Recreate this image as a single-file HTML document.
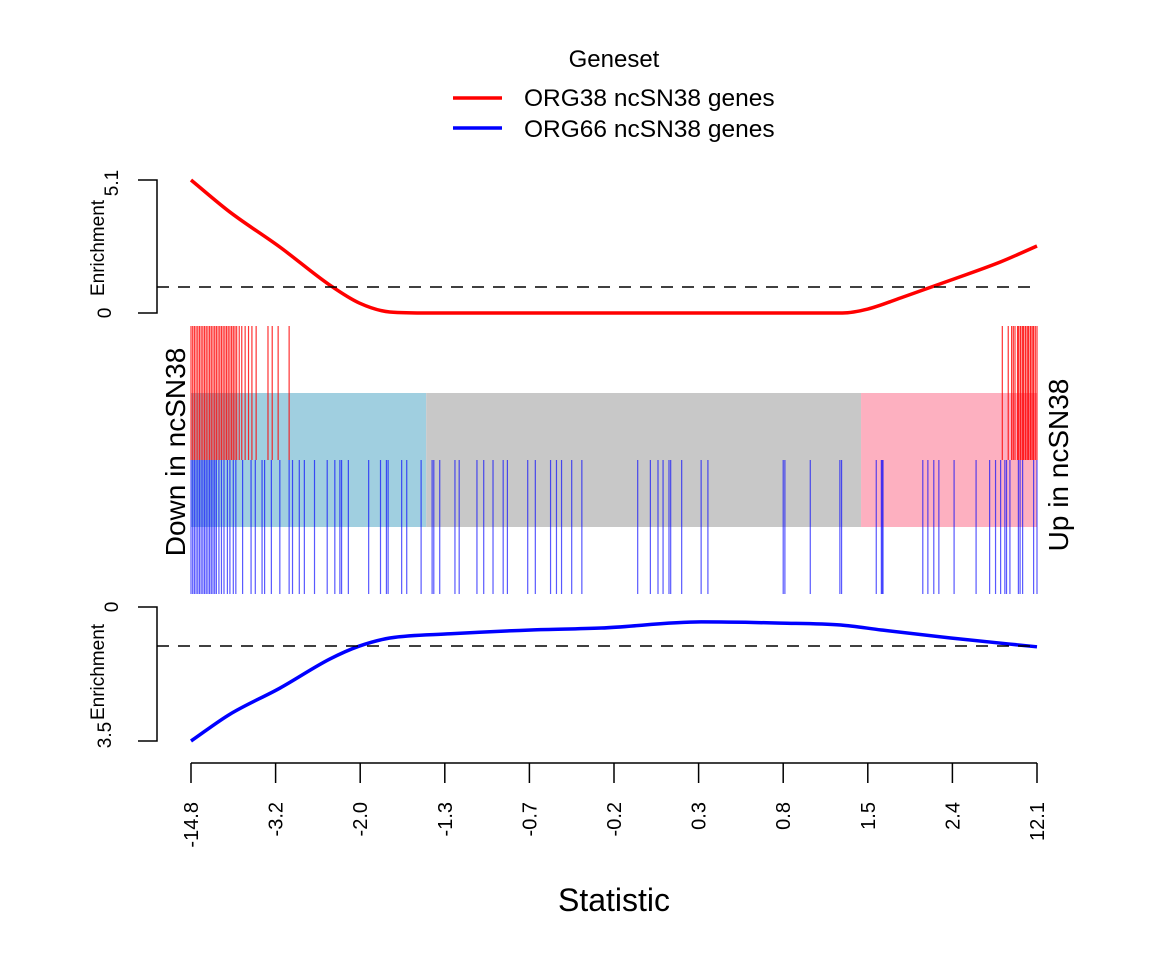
<!DOCTYPE html>
<html><head><meta charset="utf-8"><style>
html,body{margin:0;padding:0;background:#fff;}
svg{display:block;font-family:"Liberation Sans",Arial,sans-serif;}
</style></head><body>
<svg id="chart" width="1152" height="960" viewBox="0 0 1152 960">
<g id="legend">
<text x="614" y="67" font-size="24" text-anchor="middle">Geneset</text>
<line x1="453" y1="98" x2="502" y2="98" stroke="#f00" stroke-width="3.5"/>
<text x="524" y="106" font-size="24.5">ORG38 ncSN38 genes</text>
<line x1="453" y1="128" x2="502" y2="128" stroke="#00f" stroke-width="3.5"/>
<text x="524" y="137" font-size="24.5">ORG66 ncSN38 genes</text>
</g>
<g id="bands"></g>
<g id="bars"></g>
<g id="curves"></g>
<g id="axes" stroke="#000" stroke-width="1.5" fill="none">
<path d="M138,180H157V313H138"/>
<path d="M138,607H157V741H138"/>
<line x1="157" y1="287" x2="1037" y2="287" stroke-dasharray="12,9"/>
<line x1="157" y1="646" x2="1037" y2="646" stroke-dasharray="12,9"/>
</g>
<g font-size="19">
<text transform="translate(104,248) rotate(-90)" text-anchor="middle">Enrichment</text>
<text transform="translate(118,183) rotate(-90)" text-anchor="middle">5.1</text>
<text transform="translate(111,313) rotate(-90)" text-anchor="middle">0</text>
<text transform="translate(104,672) rotate(-90)" text-anchor="middle">Enrichment</text>
<text transform="translate(118,607) rotate(-90)" text-anchor="middle">0</text>
<text transform="translate(111,735) rotate(-90)" text-anchor="middle">3.5</text>
</g>
<text transform="translate(185,452) rotate(-90)" font-size="28" text-anchor="middle">Down in ncSN38</text>
<text transform="translate(1068,465) rotate(-90)" font-size="28" text-anchor="middle">Up in ncSN38</text>
<g id="xaxis"></g>
<text x="614" y="911" font-size="32" text-anchor="middle">Statistic</text>
</svg>
<script>
const xTickLabels = ["-14.8","-3.2","-2.0","-1.3","-0.7","-0.2","0.3","0.8","1.5","2.4","12.1"];
// gene ranks as fraction (0..1) of the ranked statistic
const redRanks = [0,0.002,0.004,0.006,0.008,0.01,0.012,0.014,0.016,0.018,0.02,0.022,0.024,0.026,0.028,0.03,0.032,0.034,0.036,0.038,0.04,0.042,0.044,0.046,0.048,0.05,0.052,0.054,0.057,0.06,0.064,0.068,0.072,0.077,0.091,0.096,0.103,0.116,
 0.959,0.966,0.97,0.972,0.974,0.977,0.978,0.98,0.981,0.983,0.984,0.986,0.987,0.989,0.99,0.992,0.993,0.995,0.996,0.998,1.0];
const blueRanks = [0,0.002,0.004,0.006,0.008,0.01,0.012,0.014,0.016,0.018,0.02,0.022,0.024,0.026,0.028,0.03,0.033,0.036,0.039,
 0.043,0.046,0.05,0.053,0.061,0.071,0.076,0.084,0.087,0.095,0.105,0.116,0.12,0.128,0.134,0.146,0.161,0.17,0.176,0.178,0.186,0.21,0.224,0.231,0.233,0.249,0.255,0.272,0.285,0.287,0.294,0.312,0.317,0.338,0.346,0.357,0.369,0.374,0.398,0.407,0.425,0.432,0.438,0.45,0.462,
 0.528,0.543,0.552,0.558,0.565,0.567,0.58,0.603,0.611,0.7,0.702,0.732,0.767,0.769,0.81,0.816,0.817,0.818,0.865,0.871,0.878,0.884,0.902,0.928,0.944,0.951,0.957,0.962,0.964,0.968,0.978,0.98,0.983,0.996,1.0];
const bandBreaks = [0,0.278,0.792,1];
const bandColors = ["#a0cfe0","#c8c8c8","#fdb0c0"];
const redCurveX = [0,0.046,0.105,0.164,0.199,0.235,0.282,0.5,0.77,0.8,0.839,0.898,0.957,1];
const redCurveY = [5.1,3.87,2.53,1.07,0.38,0.04,0,0,0,0.15,0.58,1.26,1.96,2.57];
const blueCurveX = [0,0.046,0.105,0.164,0.199,0.235,0.307,0.402,0.485,0.603,0.697,0.768,0.816,0.898,1];
const blueCurveY = [3.5,2.8,2.12,1.36,1.02,0.81,0.7,0.6,0.55,0.39,0.42,0.47,0.6,0.81,1.04];

const NS="http://www.w3.org/2000/svg";
const X0=191,X1=1037;
const xs=f=>X0+f*(X1-X0);
const yTop=v=>313-v/5.1*133;
const yBot=v=>607+v/3.5*134;
function mk(tag,attrs,parent){const e=document.createElementNS(NS,tag);for(const k in attrs)e.setAttribute(k,attrs[k]);parent.appendChild(e);return e;}
const bands=document.getElementById('bands');
for(let i=0;i<bandColors.length;i++){
  const r=mk('rect',{x:xs(bandBreaks[i]),y:393,width:xs(bandBreaks[i+1])-xs(bandBreaks[i]),height:134,fill:bandColors[i]},bands);
  
  
}
const bars=document.getElementById('bars');
redRanks.forEach(f=>{
  const l=mk('line',{x1:xs(f),x2:xs(f),y1:326,y2:460,stroke:'#ff0000','stroke-width':1.2,'stroke-opacity':0.8},bars);
  
  
});
blueRanks.forEach(f=>{
  const l=mk('line',{x1:xs(f),x2:xs(f),y1:460,y2:594,stroke:'#0000ff','stroke-width':1.2,'stroke-opacity':0.65},bars);
  
  
});
function monotone(px,py){
  const n=px.length,d=[],m=new Array(n);
  for(let i=0;i<n-1;i++)d.push((py[i+1]-py[i])/(px[i+1]-px[i]));
  m[0]=d[0];m[n-1]=d[n-2];
  for(let i=1;i<n-1;i++){m[i]=(d[i-1]*d[i]<=0)?0:(d[i-1]+d[i])/2;}
  for(let i=0;i<n-1;i++){if(d[i]===0){m[i]=0;m[i+1]=0;}else{const a=m[i]/d[i],b=m[i+1]/d[i],s=a*a+b*b;if(s>9){const t=3/Math.sqrt(s);m[i]=t*a*d[i];m[i+1]=t*b*d[i];}}}
  let s='M'+px[0]+','+py[0];
  for(let i=0;i<n-1;i++){const h=(px[i+1]-px[i])/3;s+=` C${px[i]+h},${py[i]+m[i]*h} ${px[i+1]-h},${py[i+1]-m[i+1]*h} ${px[i+1]},${py[i+1]}`;}
  return s;
}
const curves=document.getElementById('curves');
const rc=mk('path',{d:monotone(redCurveX.map(xs),redCurveY.map(yTop)),stroke:'#f00','stroke-width':3.5,fill:'none'},curves);


const bc=mk('path',{d:monotone(blueCurveX.map(xs),blueCurveY.map(yBot)),stroke:'#00f','stroke-width':3.5,fill:'none'},curves);


const xa=document.getElementById('xaxis');
const al=mk('line',{x1:X0,x2:X1,y1:763,y2:763,stroke:'#000','stroke-width':1.5},xa);


xTickLabels.forEach((t,i)=>{
  const x=xs(i/(xTickLabels.length-1));
  const tk=mk('line',{x1:x,x2:x,y1:763,y2:783,stroke:'#000','stroke-width':1.5},xa);
  
  
  const tx=mk('text',{transform:`translate(${x+7},802) rotate(-90)`,'font-size':20,'text-anchor':'end'},xa);
  tx.textContent=t;
  
  
});
</script>
</body></html>
